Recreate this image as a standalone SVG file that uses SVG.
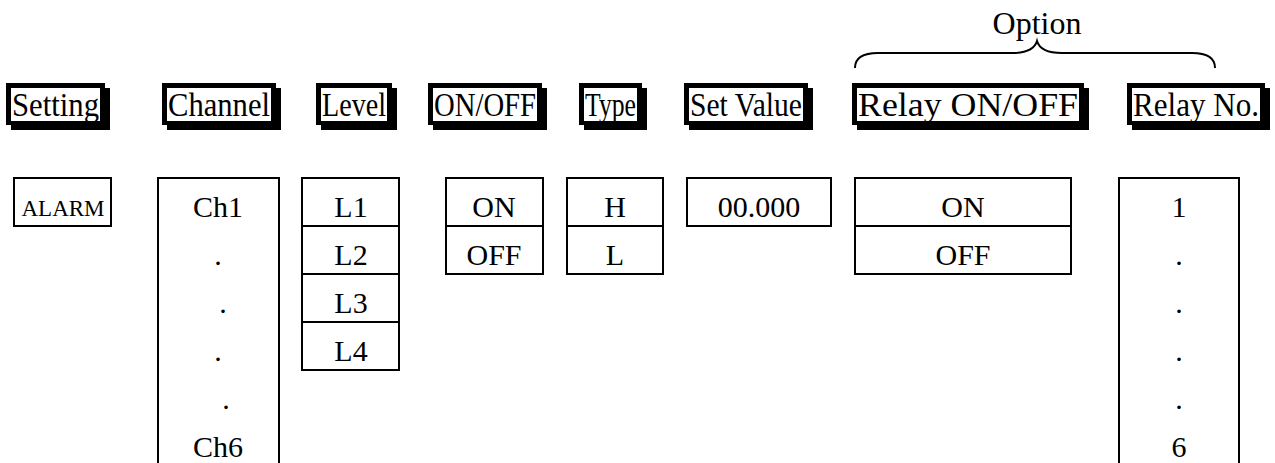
<svg xmlns="http://www.w3.org/2000/svg" width="1275" height="463" viewBox="0 0 1275 463">
<style>
text{font-family:"Liberation Serif","Times New Roman",serif;fill:#000}
.h{font-size:34px}
.t{font-size:30px;text-anchor:middle}
.op{font-size:32px;text-anchor:middle}
.sm{font-size:23px;text-anchor:middle}
.bx{fill:#fff;stroke:#000;stroke-width:2}
.ln{fill:none;stroke:#000;stroke-width:2}
.blk{fill:#000}
.wht{fill:#fff}
</style>
<rect width="1275" height="463" fill="#fff"/>

<g id="option">
<text class="op" x="1037" y="34">Option</text>
</g>

<g id="connectors">
<path class="ln" d="M855,68 C855,59 862,53 878,53 L1012,53 C1028,53 1035,48 1037,41 C1039,48 1046,53 1062,53 L1192,53 C1208,53 1215,59 1215,68"/>
</g>

<g id="hdr-setting">
<rect class="blk" x="6" y="83" width="99" height="42"/><rect class="blk" x="11" y="88" width="99" height="42"/><rect class="wht" x="11" y="88" width="89" height="33"/>
<text class="h" x="12" y="116" textLength="87" lengthAdjust="spacingAndGlyphs">Setting</text>
</g>
<g id="hdr-channel">
<rect class="blk" x="162" y="83" width="114" height="42"/><rect class="blk" x="167" y="88" width="114" height="42"/><rect class="wht" x="167" y="88" width="104" height="33"/>
<text class="h" x="168" y="116" textLength="102" lengthAdjust="spacingAndGlyphs">Channel</text>
</g>
<g id="hdr-level">
<rect class="blk" x="316" y="83" width="76" height="42"/><rect class="blk" x="321" y="88" width="76" height="42"/><rect class="wht" x="321" y="88" width="66" height="33"/>
<text class="h" x="322" y="116" textLength="64" lengthAdjust="spacingAndGlyphs">Level</text>
</g>
<g id="hdr-onoff">
<rect class="blk" x="428" y="83" width="114" height="42"/><rect class="blk" x="433" y="88" width="114" height="42"/><rect class="wht" x="433" y="88" width="104" height="33"/>
<text class="h" x="434" y="116" textLength="102" lengthAdjust="spacingAndGlyphs">ON/OFF</text>
</g>
<g id="hdr-type">
<rect class="blk" x="579" y="83" width="63" height="42"/><rect class="blk" x="584" y="88" width="63" height="42"/><rect class="wht" x="584" y="88" width="53" height="33"/>
<text class="h" x="585" y="116" textLength="51" lengthAdjust="spacingAndGlyphs">Type</text>
</g>
<g id="hdr-setvalue">
<rect class="blk" x="684" y="83" width="124" height="42"/><rect class="blk" x="689" y="88" width="124" height="42"/><rect class="wht" x="689" y="88" width="114" height="33"/>
<text class="h" x="690" y="116" textLength="112" lengthAdjust="spacingAndGlyphs">Set Value</text>
</g>
<g id="hdr-relayonoff">
<rect class="blk" x="852" y="83" width="232" height="42"/><rect class="blk" x="857" y="88" width="232" height="42"/><rect class="wht" x="857" y="88" width="222" height="33"/>
<text class="h" x="858" y="116" textLength="220" lengthAdjust="spacingAndGlyphs">Relay ON/OFF</text>
</g>
<g id="hdr-relayno">
<rect class="blk" x="1127" y="83" width="138" height="42"/><rect class="blk" x="1132" y="88" width="138" height="42"/><rect class="wht" x="1132" y="88" width="128" height="33"/>
<text class="h" x="1133" y="116" textLength="126" lengthAdjust="spacingAndGlyphs">Relay No.</text>
</g>

<g id="alarm">
<rect class="bx" x="14" y="178" width="97" height="48"/>
<text class="sm" x="63" y="216">ALARM</text>
</g>
<g id="channel">
<rect class="bx" x="158" y="178" width="121" height="300"/>
<text class="t" x="218" y="217">Ch1</text>
<text class="t" x="218" y="265">.</text>
<text class="t" x="223" y="313">.</text>
<text class="t" x="218" y="361">.</text>
<text class="t" x="226" y="409">.</text>
<text class="t" x="218" y="457">Ch6</text>
</g>
<g id="level">
<rect class="bx" x="302" y="178" width="97" height="192"/>
<path class="ln" d="M302,226H399M302,274H399M302,322H399"/>
<text class="t" x="351" y="217">L1</text>
<text class="t" x="351" y="265">L2</text>
<text class="t" x="351" y="313">L3</text>
<text class="t" x="351" y="361">L4</text>
</g>
<g id="onoff">
<rect class="bx" x="446" y="178" width="97" height="96"/>
<path class="ln" d="M446,226H543"/>
<text class="t" x="494" y="217">ON</text>
<text class="t" x="494" y="265">OFF</text>
</g>
<g id="type">
<rect class="bx" x="567" y="178" width="96" height="96"/>
<path class="ln" d="M567,226H663"/>
<text class="t" x="615" y="217">H</text>
<text class="t" x="615" y="265">L</text>
</g>
<g id="setvalue">
<rect class="bx" x="687" y="178" width="144" height="48"/>
<text class="t" x="759" y="217">00.000</text>
</g>
<g id="relayonoff">
<rect class="bx" x="855" y="178" width="216" height="96"/>
<path class="ln" d="M855,226H1071"/>
<text class="t" x="963" y="217">ON</text>
<text class="t" x="963" y="265">OFF</text>
</g>
<g id="relayno">
<rect class="bx" x="1119" y="178" width="120" height="300"/>
<text class="t" x="1179" y="217">1</text>
<text class="t" x="1179" y="265">.</text>
<text class="t" x="1179" y="313">.</text>
<text class="t" x="1179" y="361">.</text>
<text class="t" x="1179" y="409">.</text>
<text class="t" x="1179" y="457">6</text>
</g>
</svg>
